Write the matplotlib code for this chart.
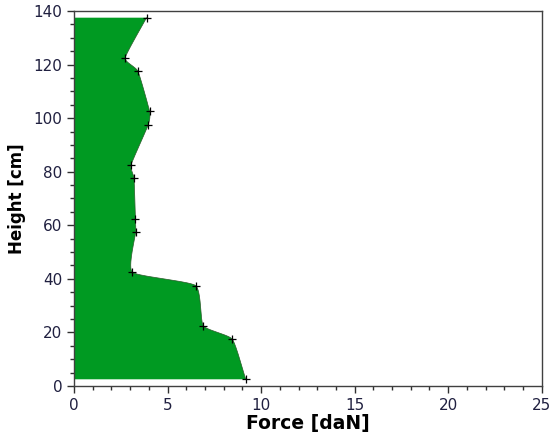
import numpy as np
import matplotlib
matplotlib.use("Agg")
import matplotlib.pyplot as plt
from matplotlib.ticker import MultipleLocator

heights = [2.5, 17.5, 22.5, 37.5, 42.5, 57.5, 62.5, 77.5, 82.5, 97.5, 102.5, 117.5, 122.5, 137.5]
forces = [9.18, 8.46, 6.91, 6.50, 3.12, 3.30, 3.28, 3.21, 3.05, 3.97, 4.04, 3.42, 2.74, 3.88]


def cardinal_spline(xs, ys, tension=0.5, n=30):
    P = np.column_stack([xs, ys]).astype(float)
    P = np.vstack([2 * P[0] - P[1], P, 2 * P[-1] - P[-2]])
    t = np.linspace(0, 1, n)[:, None]
    h00 = 2 * t**3 - 3 * t**2 + 1
    h10 = t**3 - 2 * t**2 + t
    h01 = -2 * t**3 + 3 * t**2
    h11 = t**3 - t**2
    out = []
    for i in range(1, len(P) - 2):
        m0 = tension * (P[i + 1] - P[i - 1]) / 2
        m1 = tension * (P[i + 2] - P[i]) / 2
        C = h00 * P[i] + h10 * m0 + h01 * P[i + 1] + h11 * m1
        out.append(C if i == 1 else C[1:])
    return np.vstack(out)


# spline computed in screen-proportional space
sx, sy = 18.71, 2.679
curve = cardinal_spline(np.array(forces) * sx, np.array(heights) * sy)
cx, cy = curve[:, 0] / sx, curve[:, 1] / sy

fig = plt.figure(figsize=(5.5, 4.36), dpi=100)
ax = fig.add_axes([0.1345, 0.1147, 0.8505, 0.8601])

poly_x = np.concatenate([[0], cx, [0]])
poly_y = np.concatenate([[cy[0]], cy, [cy[-1]]])
ax.fill(poly_x, poly_y, color="#009a22", lw=0)
ax.plot(cx, cy, color="#2a5a2a", lw=0.5)
ax.plot(forces, heights, ls="none", marker="+", color="black", ms=5.5, mew=0.9)

ax.set_xlim(0, 25)
ax.set_ylim(0, 140)
ax.xaxis.set_major_locator(MultipleLocator(5))
ax.xaxis.set_minor_locator(MultipleLocator(1))
ax.yaxis.set_major_locator(MultipleLocator(20))
ax.yaxis.set_minor_locator(MultipleLocator(5))
ax.tick_params(which="major", length=5, width=1, direction="out", labelsize=11,
               labelcolor="#202040", color="#303030", top=False, right=False)
ax.tick_params(which="minor", length=3, width=1, direction="out", color="#303030",
               top=False, right=False)
for s in ax.spines.values():
    s.set_color("#404040")
    s.set_linewidth(1.0)

ax.set_xlabel("Force [daN]", fontsize=13.5, fontweight="bold", color="black", labelpad=1)
ax.set_ylabel("Height [cm]", fontsize=12, fontweight="bold", color="black", labelpad=5)

fig.savefig("out.png", dpi=100)
